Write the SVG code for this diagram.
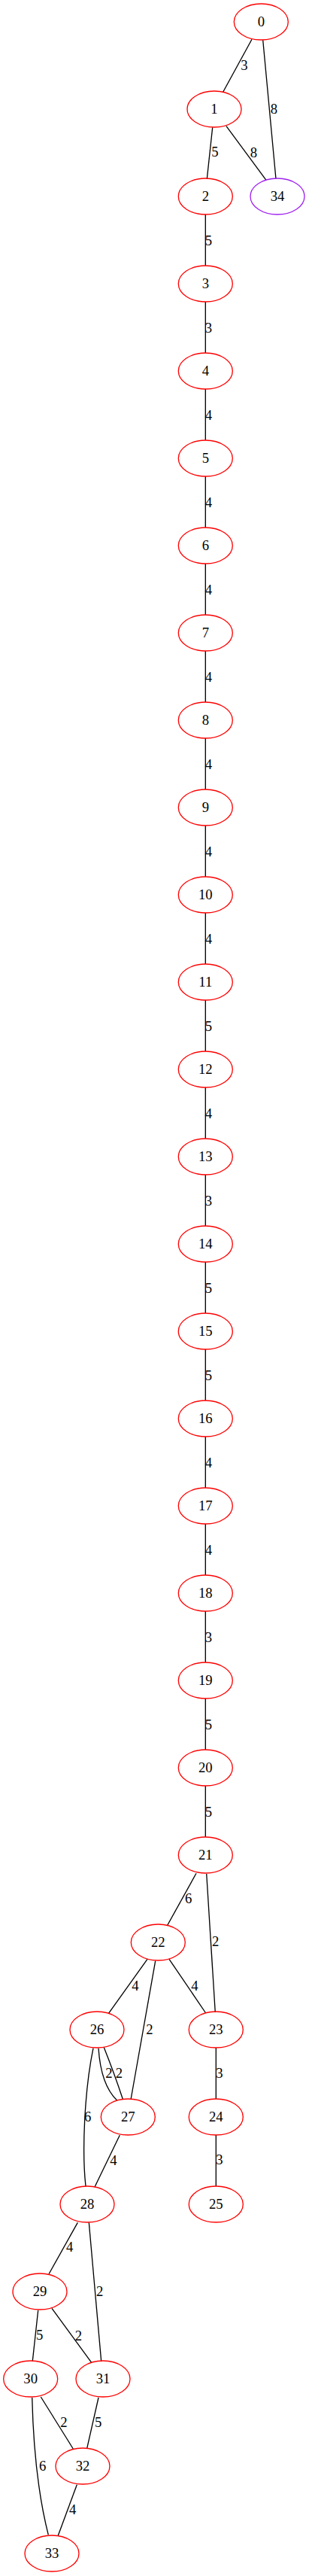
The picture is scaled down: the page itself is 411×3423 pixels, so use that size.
<svg xmlns="http://www.w3.org/2000/svg" width="411" height="3423" viewBox="0 0 411 3423">
<style>
.n ellipse{fill:none;stroke:#ff0000;stroke-width:1.33}
.n text,.e text{font-family:"Liberation Serif","Times New Roman",serif;font-size:18.67px;text-anchor:middle;fill:#000}
.e path{fill:none;stroke:#000;stroke-width:1.33}
</style>
<rect width="411" height="3423" fill="#fff"/>
<g id="edges" class="e">
<path d="M335,52.3 L296.7,122.3"/><text x="325" y="93">3</text>
<path d="M349.7,53.3 L367,237.7"/><text x="364.3" y="150.5">8</text>
<path d="M282.7,169.3 L275.3,237.7"/><text x="285.8" y="208">5</text>
<path d="M301,167.7 L354,239.3"/><text x="337.3" y="208.5">8</text>
<path d="M273.3,285 L273.3,353"/><text x="277.3" y="325.5">5</text>
<path d="M273.3,401 L273.3,469"/><text x="277.3" y="441.5">3</text>
<path d="M273.3,517 L273.3,585"/><text x="277.3" y="557.5">4</text>
<path d="M273.3,633 L273.3,701"/><text x="277.3" y="673.5">4</text>
<path d="M273.3,749 L273.3,817"/><text x="277.3" y="789.5">4</text>
<path d="M273.3,865 L273.3,933"/><text x="277.3" y="905.5">4</text>
<path d="M273.3,981 L273.3,1049"/><text x="277.3" y="1021.5">4</text>
<path d="M273.3,1097 L273.3,1165"/><text x="277.3" y="1137.5">4</text>
<path d="M273.3,1213 L273.3,1281"/><text x="277.3" y="1253.5">4</text>
<path d="M273.3,1329 L273.3,1397"/><text x="277.3" y="1369.5">5</text>
<path d="M273.3,1445 L273.3,1513"/><text x="277.3" y="1485.5">4</text>
<path d="M273.3,1561 L273.3,1629"/><text x="277.3" y="1601.5">3</text>
<path d="M273.3,1677 L273.3,1745"/><text x="277.3" y="1717.5">5</text>
<path d="M273.3,1793 L273.3,1861"/><text x="277.3" y="1833.5">5</text>
<path d="M273.3,1909 L273.3,1977"/><text x="277.3" y="1949.5">4</text>
<path d="M273.3,2025 L273.3,2093"/><text x="277.3" y="2065.5">4</text>
<path d="M273.3,2141 L273.3,2209"/><text x="277.3" y="2181.5">3</text>
<path d="M273.3,2257 L273.3,2325"/><text x="277.3" y="2297.5">5</text>
<path d="M273.3,2373 L273.3,2441"/><text x="277.3" y="2413.5">5</text>
<path d="M261,2489.3 L222.3,2559"/><text x="250.7" y="2528.5">6</text>
<path d="M274.7,2490 L286.3,2674"/><text x="286.7" y="2586.3">2</text>
<path d="M196,2603.3 L144.3,2675.7"/><text x="180" y="2645.3">4</text>
<path d="M206.7,2605.7 L174,2790"/><text x="199" y="2703">2</text>
<path d="M225,2603.3 L273.7,2675"/><text x="259" y="2645.3">4</text>
<path d="M287.3,2721 L287.3,2789"/><text x="292" y="2760.5">3</text>
<path d="M287.3,2837 L287.3,2905"/><text x="292" y="2876.3">3</text>
<path d="M131,2721.7 C133,2752 140,2776 155.7,2791"/><text x="145" y="2761.3">2</text>
<path d="M138.3,2720.7 C146,2740 155,2764 163.3,2789.3"/><text x="158.3" y="2761.3">2</text>
<path d="M124,2721.7 C112,2780 109,2860 114,2905"/><text x="116.7" y="2819">6</text>
<path d="M159.3,2837.3 L126,2906"/><text x="151" y="2877">4</text>
<path d="M103.3,2953.3 L65,3021.7"/><text x="92.7" y="2992.3">4</text>
<path d="M118.3,2953.3 L134.7,3137.7"/><text x="132.7" y="3051.3">2</text>
<path d="M50.7,3070 L43.3,3137.3"/><text x="52.7" y="3109">5</text>
<path d="M69,3067.3 L121.7,3139.3"/><text x="104.3" y="3109.6">2</text>
<path d="M54.3,3185 L97.3,3254"/><text x="85" y="3225.3">2</text>
<path d="M42.7,3186 C44.5,3260 52,3320 64.3,3368.3"/><text x="56.7" y="3283">6</text>
<path d="M131,3186 L115.7,3253.3"/><text x="130.7" y="3224.6">5</text>
<path d="M102.3,3301.7 L77.3,3369.3"/><text x="96.7" y="3341.3">4</text>
</g>
<g id="node0" class="n"><ellipse cx="347.3" cy="29" rx="36" ry="24"/><text x="347.3" y="35">0</text></g>
<g id="node1" class="n"><ellipse cx="285" cy="145" rx="36" ry="24"/><text x="285" y="151">1</text></g>
<g id="node34" class="n"><ellipse cx="369" cy="261" rx="36" ry="24" style="stroke:#a020f0"/><text x="369" y="267">34</text></g>
<g id="node2" class="n"><ellipse cx="273.3" cy="261" rx="36" ry="24"/><text x="273.3" y="267">2</text></g>
<g id="node3" class="n"><ellipse cx="273.3" cy="377" rx="36" ry="24"/><text x="273.3" y="383">3</text></g>
<g id="node4" class="n"><ellipse cx="273.3" cy="493" rx="36" ry="24"/><text x="273.3" y="499">4</text></g>
<g id="node5" class="n"><ellipse cx="273.3" cy="609" rx="36" ry="24"/><text x="273.3" y="615">5</text></g>
<g id="node6" class="n"><ellipse cx="273.3" cy="725" rx="36" ry="24"/><text x="273.3" y="731">6</text></g>
<g id="node7" class="n"><ellipse cx="273.3" cy="841" rx="36" ry="24"/><text x="273.3" y="847">7</text></g>
<g id="node8" class="n"><ellipse cx="273.3" cy="957" rx="36" ry="24"/><text x="273.3" y="963">8</text></g>
<g id="node9" class="n"><ellipse cx="273.3" cy="1073" rx="36" ry="24"/><text x="273.3" y="1079">9</text></g>
<g id="node10" class="n"><ellipse cx="273.3" cy="1189" rx="36" ry="24"/><text x="273.3" y="1195">10</text></g>
<g id="node11" class="n"><ellipse cx="273.3" cy="1305" rx="36" ry="24"/><text x="273.3" y="1311">11</text></g>
<g id="node12" class="n"><ellipse cx="273.3" cy="1421" rx="36" ry="24"/><text x="273.3" y="1427">12</text></g>
<g id="node13" class="n"><ellipse cx="273.3" cy="1537" rx="36" ry="24"/><text x="273.3" y="1543">13</text></g>
<g id="node14" class="n"><ellipse cx="273.3" cy="1653" rx="36" ry="24"/><text x="273.3" y="1659">14</text></g>
<g id="node15" class="n"><ellipse cx="273.3" cy="1769" rx="36" ry="24"/><text x="273.3" y="1775">15</text></g>
<g id="node16" class="n"><ellipse cx="273.3" cy="1885" rx="36" ry="24"/><text x="273.3" y="1891">16</text></g>
<g id="node17" class="n"><ellipse cx="273.3" cy="2001" rx="36" ry="24"/><text x="273.3" y="2007">17</text></g>
<g id="node18" class="n"><ellipse cx="273.3" cy="2117" rx="36" ry="24"/><text x="273.3" y="2123">18</text></g>
<g id="node19" class="n"><ellipse cx="273.3" cy="2233" rx="36" ry="24"/><text x="273.3" y="2239">19</text></g>
<g id="node20" class="n"><ellipse cx="273.3" cy="2349" rx="36" ry="24"/><text x="273.3" y="2355">20</text></g>
<g id="node21" class="n"><ellipse cx="273.3" cy="2465" rx="36" ry="24"/><text x="273.3" y="2471">21</text></g>
<g id="node22" class="n"><ellipse cx="210.3" cy="2581" rx="36" ry="24"/><text x="210.3" y="2587">22</text></g>
<g id="node23" class="n"><ellipse cx="287.3" cy="2697" rx="36" ry="24"/><text x="287.3" y="2703">23</text></g>
<g id="node24" class="n"><ellipse cx="287.3" cy="2813" rx="36" ry="24"/><text x="287.3" y="2819">24</text></g>
<g id="node25" class="n"><ellipse cx="287.3" cy="2929" rx="36" ry="24"/><text x="287.3" y="2935">25</text></g>
<g id="node26" class="n"><ellipse cx="129" cy="2697" rx="36" ry="24"/><text x="129" y="2703">26</text></g>
<g id="node27" class="n"><ellipse cx="170.3" cy="2813" rx="36" ry="24"/><text x="170.3" y="2819">27</text></g>
<g id="node28" class="n"><ellipse cx="116" cy="2929" rx="36" ry="24"/><text x="116" y="2935">28</text></g>
<g id="node29" class="n"><ellipse cx="53" cy="3045" rx="36" ry="24"/><text x="53" y="3051">29</text></g>
<g id="node30" class="n"><ellipse cx="40.7" cy="3161" rx="36" ry="24"/><text x="40.7" y="3167">30</text></g>
<g id="node31" class="n"><ellipse cx="137" cy="3161" rx="36" ry="24"/><text x="137" y="3167">31</text></g>
<g id="node32" class="n"><ellipse cx="110" cy="3277" rx="36" ry="24"/><text x="110" y="3283">32</text></g>
<g id="node33" class="n"><ellipse cx="69" cy="3393" rx="36" ry="24"/><text x="69" y="3399">33</text></g>
</svg>
